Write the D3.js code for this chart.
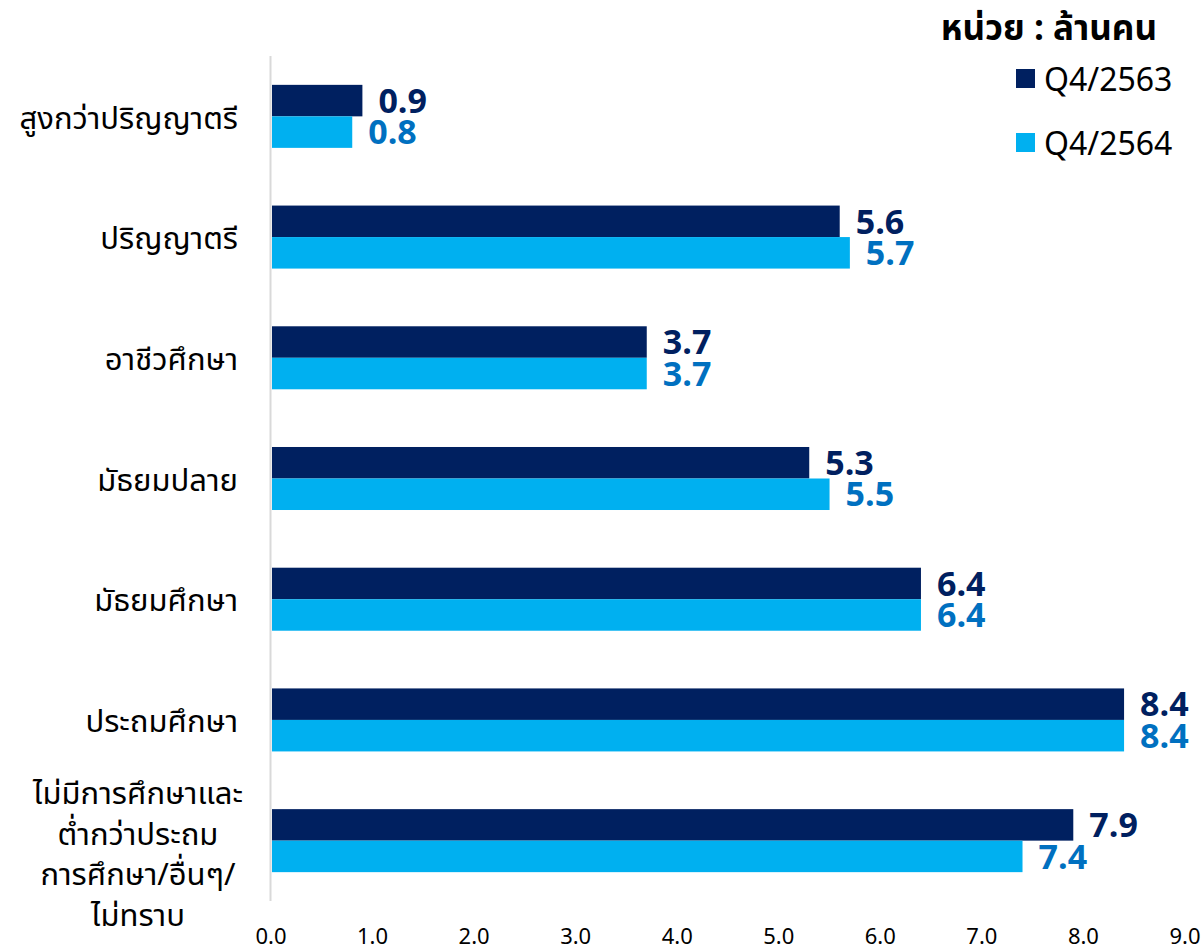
<!DOCTYPE html>
<html>
<head>
<meta charset="utf-8">
<script src="https://cdn.jsdelivr.net/npm/d3@7"></script>
<style>
  html, body { margin: 0; padding: 0; background: #fff; }
  svg { display: block; font-family: "Noto Sans Thai", "Noto Sans", "DejaVu Sans", sans-serif; }
</style>
</head>
<body>
<svg id="chart" width="1204" height="946"></svg>
<script>
const categories = [
  ["สูงกว่าปริญญาตรี"],
  ["ปริญญาตรี"],
  ["อาชีวศึกษา"],
  ["มัธยมปลาย"],
  ["มัธยมศึกษา"],
  ["ประถมศึกษา"],
  ["ไม่มีการศึกษาและ", "ต่ำกว่าประถม", "การศึกษา/อื่นๆ/", "ไม่ทราบ"]
];
const seriesNames = ["Q4/2563", "Q4/2564"];
const values2563 = [0.9, 5.6, 3.7, 5.3, 6.4, 8.4, 7.9];
const values2564 = [0.8, 5.7, 3.7, 5.5, 6.4, 8.4, 7.4];
const tickValues = [0, 1, 2, 3, 4, 5, 6, 7, 8, 9];
const unitLabel = "หน่วย : ล้านคน";

const barColors = ["#002060", "#00B0F0"];
const labelColors = ["#002060", "#0070C0"];

const svg = d3.select("#chart");
const x = d3.scaleLinear().domain([0, 9]).range([271, 1185]);
const y = d3.scaleBand().domain(d3.range(categories.length)).range([56, 901])
  .paddingInner(0.478).paddingOuter(0.239);
const sub = d3.scaleBand().domain([0, 1]).range([0, y.bandwidth()]);

const series = [values2563, values2564];

// axis line
svg.append("line")
  .attr("x1", x(0) - 0.5).attr("x2", x(0) - 0.5)
  .attr("y1", 56).attr("y2", 901)
  .attr("stroke", "#d9d9d9").attr("stroke-width", 2);

// bars
series.forEach((vals, si) => {
  const g = svg.append("g");
  g.selectAll("rect").data(vals).join("rect")
    .attr("x", x(0) + 1)
    .attr("y", (d, i) => y(i) + sub(si))
    .attr("width", d => x(d) - x(0) - 1)
    .attr("height", sub.bandwidth())
    .attr("fill", barColors[si]);
  g.selectAll("text").data(vals).join("text")
    .attr("x", d => x(d) + 16)
    .attr("y", (d, i) => y(i) + sub(si) + sub.bandwidth() / 2)
    .attr("dy", "0.36em")
    .attr("fill", labelColors[si])
    .attr("font-size", 34)
    .attr("font-weight", "bold")
    .text(d => d.toFixed(1));
});

// category labels
categories.forEach((lines, i) => {
  const cy = y(i) + y.bandwidth() / 2;
  const multi = lines.length > 1;
  const lh = 40.7;
  const t = svg.append("text")
    .attr("text-anchor", multi ? "middle" : "end")
    .attr("font-size", 31)
    .attr("fill", "#000");
  lines.forEach((ln, j) => {
    t.append("tspan")
      .attr("x", multi ? 138 : 238)
      .attr("y", multi ? cy - 48 + j * lh : cy + 1)
      .attr("dy", "0.36em")
      .text(ln);
  });
});

// x axis tick labels
svg.append("g").selectAll("text").data(tickValues).join("text")
  .attr("x", d => x(d))
  .attr("y", 944)
  .attr("text-anchor", "middle")
  .attr("font-size", 22)
  .attr("fill", "#000")
  .text(d => d.toFixed(1));

// unit label
svg.append("text")
  .attr("x", 1157).attr("y", 40)
  .attr("text-anchor", "end")
  .attr("font-size", 35)
  .attr("font-weight", "bold")
  .attr("fill", "#000")
  .text(unitLabel);

// legend
seriesNames.forEach((name, i) => {
  const ly = 79 + i * 64;
  svg.append("rect")
    .attr("x", 1016).attr("y", ly - 10)
    .attr("width", 19).attr("height", 19)
    .attr("fill", barColors[i]);
  svg.append("text")
    .attr("x", 1044).attr("y", ly)
    .attr("dy", "0.36em")
    .attr("font-size", 32)
    .attr("fill", "#000")
    .text(name);
});
</script>
</body>
</html>
